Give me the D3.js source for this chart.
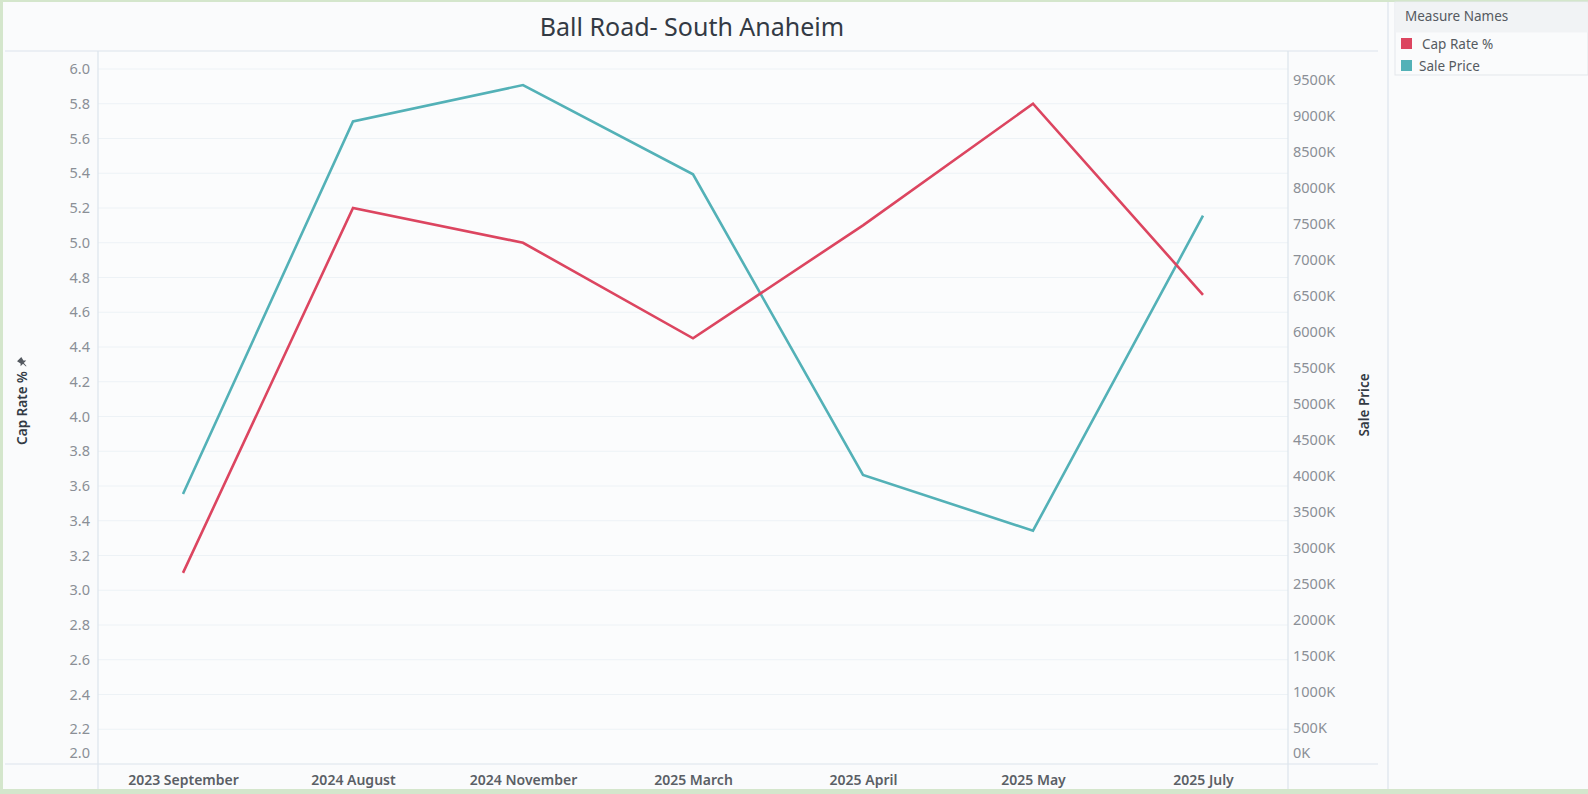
<!DOCTYPE html>
<html>
<head>
<meta charset="utf-8">
<script src="https://cdn.jsdelivr.net/npm/d3@7"></script>
<style>
  html, body { margin: 0; padding: 0; background: #d4e6cc; }
  svg { display: block; font-family: "Noto Sans", "Open Sans", sans-serif; }
</style>
</head>
<body>
<svg id="chart" width="1588" height="794"></svg>
<script>
// Monthly observations for Ball Road - South Anaheim
const months = ["2023 September", "2024 August", "2024 November", "2025 March", "2025 April", "2025 May", "2025 July"];
const capRate = [3.1, 5.2, 5.0, 4.45, 5.1, 5.8, 4.7];
const salePrice = [3750000, 8925000, 9430000, 8190000, 4015000, 3240000, 7615000];

const capTicks = d3.range(20, 61, 2).map(v => v / 10);
const priceTicks = d3.range(0, 9500001, 500000);

const seriesNames = ["Cap Rate %", "Sale Price"];
const seriesColors = ["#dc4560", "#53b1b7"];

const svg = d3.select("#chart");
const W = 1588, H = 794;

// panel backgrounds
svg.append("rect").attr("x", 3).attr("y", 2).attr("width", W - 3).attr("height", 787).attr("fill", "#fafbfc");

const plot = { left: 98, right: 1288, top: 51, bottom: 764 };

const x = d3.scalePoint().domain(months).range([plot.left, plot.right]).padding(0.5);
const yL = d3.scaleLinear().domain([2.0, 6.1036]).range([plot.bottom, plot.top]);
const yR = d3.scaleLinear().domain([0, 9903000]).range([plot.bottom, plot.top]);

// plot area
svg.append("rect").attr("x", plot.left).attr("y", plot.top)
  .attr("width", plot.right - plot.left).attr("height", plot.bottom - plot.top)
  .attr("fill", "#fbfcfd");

// horizontal gridlines
svg.append("g").selectAll("line").data(capTicks.slice(1)).join("line")
  .attr("x1", plot.left).attr("x2", plot.right)
  .attr("y1", d => yL(d)).attr("y2", d => yL(d))
  .attr("stroke", "#edf2f6").attr("stroke-width", 1);

// frame lines
const frame = svg.append("g").attr("stroke", "#dce4ec").attr("stroke-width", 1.2);
frame.append("line").attr("x1", 5).attr("x2", 1378).attr("y1", plot.top).attr("y2", plot.top);
frame.append("line").attr("x1", 5).attr("x2", 1378).attr("y1", plot.bottom).attr("y2", plot.bottom);
frame.append("line").attr("x1", plot.left).attr("x2", plot.left).attr("y1", plot.top).attr("y2", 789);
frame.append("line").attr("x1", plot.right).attr("x2", plot.right).attr("y1", plot.top).attr("y2", 789);
frame.append("line").attr("x1", 1388).attr("x2", 1388).attr("y1", 2).attr("y2", 789);

// title
svg.append("text").attr("x", 692).attr("y", 36).attr("text-anchor", "middle")
  .attr("font-size", 25).attr("fill", "#333a44").text("Ball Road- South Anaheim");

// left axis
const leftAxis = svg.append("g").attr("transform", `translate(${plot.left},0)`)
  .call(d3.axisLeft(yL).tickValues(capTicks).tickFormat(d3.format(".1f")).tickSize(0).tickPadding(8));
leftAxis.select(".domain").remove();
leftAxis.selectAll("text").attr("font-size", 14.5).attr("fill", "#8a8f96")
  .attr("font-family", "Noto Sans, sans-serif")
  .attr("dy", d => d === 2.0 ? "-0.45em" : "0.32em");

// right axis
const rightAxis = svg.append("g").attr("transform", `translate(${plot.right},0)`)
  .call(d3.axisRight(yR).tickValues(priceTicks).tickFormat(d => (d / 1000) + "K").tickSize(0).tickPadding(5));
rightAxis.select(".domain").remove();
rightAxis.selectAll("text").attr("font-size", 14.5).attr("fill", "#8a8f96")
  .attr("font-family", "Noto Sans, sans-serif")
  .attr("dy", d => d === 0 ? "-0.45em" : "0.32em");

// bottom axis
const bottomAxis = svg.append("g").attr("transform", `translate(0,${plot.bottom})`)
  .call(d3.axisBottom(x).tickSize(0).tickPadding(8));
bottomAxis.select(".domain").remove();
bottomAxis.selectAll("text").attr("font-size", 14).attr("font-weight", 600).attr("fill", "#5a5f66")
  .attr("font-family", "Noto Sans, sans-serif").attr("dy", "0.9em");

// axis titles
const capTitle = svg.append("g").attr("transform", "translate(27,408) rotate(-90)");
capTitle.append("text").attr("text-anchor", "middle").attr("font-size", 13.5).attr("font-weight", 600)
  .attr("fill", "#333a44").text("Cap Rate %");
capTitle.append("path").attr("transform", "translate(46,-5) rotate(45)")
  .attr("d", "M-3,-4 L3,-4 L2,0 L4,2 L-4,2 L-2,0 Z M-0.6,2 L0.6,2 L0.3,6 L-0.3,6 Z")
  .attr("fill", "#555a61");

svg.append("text").attr("transform", "translate(1369,405) rotate(-90)").attr("text-anchor", "middle")
  .attr("font-size", 13.5).attr("font-weight", 600).attr("fill", "#333a44").text("Sale Price");

// series lines
const lineCap = d3.line().x((d, i) => x(months[i])).y(d => yL(d));
const linePrice = d3.line().x((d, i) => x(months[i])).y(d => yR(d));

svg.append("path").datum(salePrice).attr("d", linePrice)
  .attr("fill", "none").attr("stroke", seriesColors[1]).attr("stroke-width", 2.6).attr("stroke-linejoin", "miter");
svg.append("path").datum(capRate).attr("d", lineCap)
  .attr("fill", "none").attr("stroke", seriesColors[0]).attr("stroke-width", 2.6).attr("stroke-linejoin", "miter");

// legend
const legend = svg.append("g");
legend.append("rect").attr("x", 1395).attr("y", 2).attr("width", 193).attr("height", 73)
  .attr("fill", "#fafbfc").attr("stroke", "#e3e7eb");
legend.append("rect").attr("x", 1395.5).attr("y", 2.5).attr("width", 192).attr("height", 30)
  .attr("fill", "#f1f3f5");
legend.append("text").attr("x", 1405).attr("y", 21).attr("font-size", 13.5).attr("fill", "#555a61")
  .text("Measure Names");
const items = legend.selectAll("g.item").data(seriesNames).join("g").attr("class", "item")
  .attr("transform", (d, i) => `translate(1401,${38 + i * 22})`);
items.append("rect").attr("width", 11).attr("height", 11).attr("fill", (d, i) => seriesColors[i]);
items.append("text").attr("x", (d, i) => i === 0 ? 21 : 18).attr("y", 10.5).attr("font-size", 13.5)
  .attr("fill", "#555a61").text(d => d);
</script>
</body>
</html>
